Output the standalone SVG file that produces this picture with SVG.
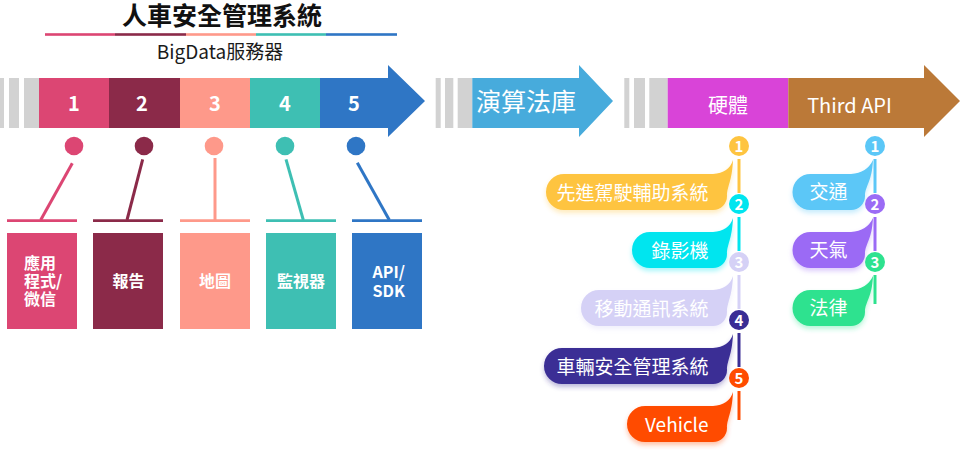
<svg xmlns="http://www.w3.org/2000/svg" width="960" height="453" viewBox="0 0 960 453">
<defs>
<style>
text{font-family:"Noto Sans CJK TC","Noto Sans",sans-serif}
.title{font-size:25px;font-weight:700;fill:#111;text-anchor:middle}
.sub{font-size:19px;fill:#1a1a1a;text-anchor:middle}
.num{font-size:20px;font-weight:700;fill:#fff;text-anchor:middle}
.hd{font-size:20px;fill:#fff;text-anchor:middle}
.box{font-size:16px;font-weight:700;fill:#fff}
.bt{font-size:19px;fill:#fff;text-anchor:end}
.cn{font-size:15px;font-weight:700;fill:#fff;text-anchor:middle}
.grey{fill:#d2d2d2}
.stem{stroke-width:3;fill:none}
.hl{stroke-width:2.7;fill:none}
.vl{stroke-width:3;fill:none}
</style>
<filter id="sh" x="-10%" y="-30%" width="120%" height="170%">
<feGaussianBlur in="SourceGraphic" stdDeviation="2.5" result="b"/>
<feOffset in="b" dy="3" result="o"/>
<feComponentTransfer in="o" result="t"><feFuncA type="linear" slope="0.35"/></feComponentTransfer>
<feMerge><feMergeNode in="t"/><feMergeNode in="SourceGraphic"/></feMerge>
</filter>
</defs>
<rect width="960" height="453" fill="#fff"/>

<g id="title">
<text class="title" x="222" y="24.5">人車安全管理系統</text>
<rect x="45" y="33.2" width="70" height="2.6" fill="#dc4673"/>
<rect x="115" y="33.2" width="71" height="2.6" fill="#8b2a49"/>
<rect x="186" y="33.2" width="70" height="2.6" fill="#fe998a"/>
<rect x="256" y="33.2" width="70" height="2.6" fill="#3ebfb3"/>
<rect x="326" y="33.2" width="71" height="2.6" fill="#2f76c5"/>
<text class="sub" x="220" y="59">BigData服務器</text>
</g>

<g id="arrow-bigdata">
<rect class="grey" x="0" y="78" width="4" height="50"/>
<rect class="grey" x="9" y="78" width="10" height="50"/>
<rect class="grey" x="24" y="78" width="15" height="50"/>
<rect x="39" y="78" width="70" height="50" fill="#dc4673"/>
<rect x="109" y="78" width="71" height="50" fill="#8b2a49"/>
<rect x="180" y="78" width="70" height="50" fill="#fe998a"/>
<rect x="250" y="78" width="70" height="50" fill="#3ebfb3"/>
<polygon points="320,78 388,78 388,65 425,101 388,137 388,128 320,128" fill="#2f76c5"/>
<text class="num" x="74" y="111">1</text>
<text class="num" x="142" y="111">2</text>
<text class="num" x="215" y="111">3</text>
<text class="num" x="285" y="111">4</text>
<text class="num" x="354" y="111">5</text>
</g>

<g id="arrow-algo">
<rect class="grey" x="435.7" y="78" width="5" height="50"/>
<rect class="grey" x="445" y="78" width="8.3" height="50"/>
<rect class="grey" x="457.7" y="78" width="14.6" height="50"/>
<polygon points="472.3,78 579,78 579,65 613,101 579,137 579,128 472.3,128" fill="#47abdc"/>
<text x="476" y="111" font-size="25" fill="#fff">演算法庫</text>
</g>

<g id="arrow-hw">
<rect class="grey" x="624.3" y="78" width="5" height="50"/>
<rect class="grey" x="634" y="78" width="11" height="50"/>
<rect class="grey" x="649.3" y="78" width="18.4" height="50"/>
<rect x="667.7" y="78" width="120.6" height="50" fill="#d944d8"/>
<polygon points="788.3,78 924,78 924,65 960,101 924,137 924,128 788.3,128" fill="#bb7938"/>
<text class="hd" x="728" y="113">硬體</text>
<text class="hd" x="849.5" y="113">Third API</text>
</g>

<g id="connectors">
<line class="stem" x1="72.3" y1="163.3" x2="40.7" y2="220" stroke="#dc4673"/>
<line class="stem" x1="142.7" y1="159.3" x2="127" y2="220" stroke="#8b2a49"/>
<line class="stem" x1="215" y1="158" x2="215" y2="220" stroke="#fe998a"/>
<line class="stem" x1="286" y1="159.3" x2="303.3" y2="220" stroke="#3ebfb3"/>
<line class="stem" x1="357.3" y1="162.7" x2="389.3" y2="220" stroke="#2f76c5"/>
<line class="hl" x1="7" y1="220.7" x2="77" y2="220.7" stroke="#dc4673"/>
<line class="hl" x1="93" y1="220.7" x2="163" y2="220.7" stroke="#8b2a49"/>
<line class="hl" x1="180" y1="220.7" x2="250" y2="220.7" stroke="#fe998a"/>
<line class="hl" x1="266" y1="220.7" x2="336" y2="220.7" stroke="#3ebfb3"/>
<line class="hl" x1="352" y1="220.7" x2="422" y2="220.7" stroke="#2f76c5"/>
<line class="vl" x1="739" y1="159" x2="739" y2="193" stroke="#fec440"/>
<line class="vl" x1="739" y1="217" x2="739" y2="251" stroke="#00e5ef"/>
<line class="vl" x1="739" y1="275" x2="739" y2="309" stroke="#d5d1f6"/>
<line class="vl" x1="739" y1="333" x2="739" y2="367" stroke="#3a2d95"/>
<line class="vl" x1="739" y1="391" x2="739" y2="420" stroke="#ff4c00"/>
<line class="vl" x1="875" y1="159" x2="875" y2="193" stroke="#5bc7f7"/>
<line class="vl" x1="875" y1="217" x2="875" y2="251" stroke="#9b6bf5"/>
<line class="vl" x1="875" y1="275" x2="875" y2="304" stroke="#2ee28f"/>
</g>

<g id="dot-1"><circle cx="74" cy="146" r="9.3" fill="#dc4673"/></g>
<g id="dot-2"><circle cx="144" cy="146" r="9.3" fill="#8b2a49"/></g>
<g id="dot-3"><circle cx="214" cy="146" r="9.3" fill="#fe998a"/></g>
<g id="dot-4"><circle cx="285" cy="146" r="9.3" fill="#3ebfb3"/></g>
<g id="dot-5"><circle cx="356" cy="146" r="9.3" fill="#2f76c5"/></g>

<g id="box-app">
<rect x="7" y="233" width="70" height="96" fill="#dc4673"/>
<text class="box" x="24" y="268.5">應用<tspan x="24" dy="18.2">程式/</tspan><tspan x="24" dy="18.2">微信</tspan></text>
</g>
<g id="box-report">
<rect x="93" y="233" width="70" height="96" fill="#8b2a49"/>
<text class="box" x="128.5" y="286.7" text-anchor="middle">報告</text>
</g>
<g id="box-map">
<rect x="180" y="233" width="70" height="96" fill="#fe998a"/>
<text class="box" x="215" y="286.7" text-anchor="middle">地圖</text>
</g>
<g id="box-monitor">
<rect x="266" y="233" width="70" height="96" fill="#3ebfb3"/>
<text class="box" x="301" y="286.7" text-anchor="middle">監視器</text>
</g>
<g id="box-api">
<rect x="352" y="233" width="70" height="96" fill="#2f76c5"/>
<text class="box" x="372.5" y="278.3">API/<tspan x="372.5" dy="18.4">SDK</tspan></text>
</g>

<g id="hw-1">
<circle cx="739" cy="146" r="10" fill="#fec440"/><text class="cn" x="739" y="151.5">1</text>
<path filter="url(#sh)" fill="#fec440" d="M564,174 H713 Q729,173 733,160 C732,182 727,186 727,196 A14,14 0 0 1 713,210 H564 A18,18 0 0 1 564,174 Z"/>
<text class="bt" x="708.5" y="199.5">先進駕駛輔助系統</text>
</g>
<g id="hw-2">
<circle cx="739" cy="204" r="10" fill="#00e5ef"/><text class="cn" x="739" y="209.5">2</text>
<path filter="url(#sh)" fill="#00e5ef" d="M650,232 H713 Q729,231 733,218 C732,240 727,244 727,254 A14,14 0 0 1 713,268 H650 A18,18 0 0 1 650,232 Z"/>
<text class="bt" x="708.5" y="257.5">錄影機</text>
</g>
<g id="hw-3">
<circle cx="739" cy="262" r="10" fill="#d5d1f6"/><text class="cn" x="739" y="267.5">3</text>
<path filter="url(#sh)" fill="#d5d1f6" d="M599,290 H713 Q729,289 733,276 C732,298 727,302 727,312 A14,14 0 0 1 713,326 H599 A18,18 0 0 1 599,290 Z"/>
<text class="bt" x="708.5" y="315.5">移動通訊系統</text>
</g>
<g id="hw-4">
<circle cx="739" cy="320" r="10" fill="#3a2d95"/><text class="cn" x="739" y="325.5">4</text>
<path filter="url(#sh)" fill="#3a2d95" d="M562,348 H713 Q729,347 733,334 C732,356 727,360 727,370 A14,14 0 0 1 713,384 H562 A18,18 0 0 1 562,348 Z"/>
<text class="bt" x="708.5" y="373.5">車輛安全管理系統</text>
</g>
<g id="hw-5">
<circle cx="739" cy="378" r="10" fill="#ff4c00"/><text class="cn" x="739" y="383.5">5</text>
<path filter="url(#sh)" fill="#ff4c00" d="M645,406 H713 Q729,405 733,392 C732,414 727,418 727,428 A14,14 0 0 1 713,442 H645 A18,18 0 0 1 645,406 Z"/>
<text class="bt" x="708.5" y="431.5">Vehicle</text>
</g>

<g id="api-1">
<circle cx="875" cy="146" r="10" fill="#5bc7f7"/><text class="cn" x="875" y="151.5">1</text>
<path filter="url(#sh)" fill="#5bc7f7" d="M810.5,174 H851 Q867,173 873,160 C872,182 865,186 865,196 A14,14 0 0 1 851,210 H810.5 A18,18 0 0 1 810.5,174 Z"/>
<text class="bt" x="847.5" y="199">交通</text>
</g>
<g id="api-2">
<circle cx="875" cy="204" r="10" fill="#9b6bf5"/><text class="cn" x="875" y="209.5">2</text>
<path filter="url(#sh)" fill="#9b6bf5" d="M810.5,232 H851 Q867,231 873,218 C872,240 865,244 865,254 A14,14 0 0 1 851,268 H810.5 A18,18 0 0 1 810.5,232 Z"/>
<text class="bt" x="847.5" y="257">天氣</text>
</g>
<g id="api-3">
<circle cx="875" cy="262" r="10" fill="#2ee28f"/><text class="cn" x="875" y="267.5">3</text>
<path filter="url(#sh)" fill="#2ee28f" d="M810.5,290 H851 Q867,289 873,276 C872,298 865,302 865,312 A14,14 0 0 1 851,326 H810.5 A18,18 0 0 1 810.5,290 Z"/>
<text class="bt" x="847.5" y="315">法律</text>
</g>
</svg>
